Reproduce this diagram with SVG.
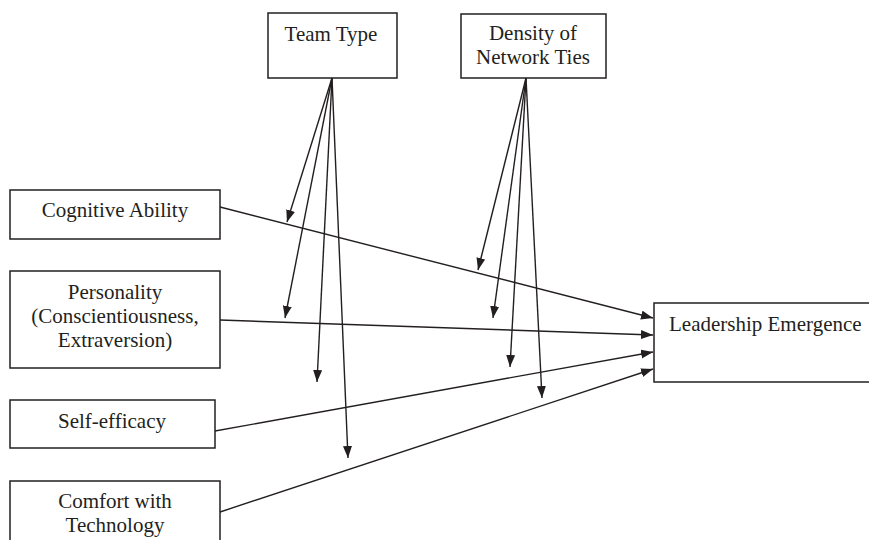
<svg xmlns="http://www.w3.org/2000/svg" width="869" height="540" viewBox="0 0 869 540">
<defs>
<style>
.box{fill:#fff;stroke:#231f20;stroke-width:1.5}
.t{font-family:"Liberation Serif","Times New Roman",serif;font-size:21px;fill:#231f20;text-anchor:middle}
.c{stroke:#231f20;stroke-width:1.4;fill:none;marker-end:url(#ah)}
</style>
<marker id="ah" markerUnits="userSpaceOnUse" markerWidth="13" markerHeight="10" refX="12" refY="4.5" orient="auto">
<path d="M0,0 L12,4.5 L0,9 z" fill="#231f20"/>
</marker>
</defs>
<rect width="869" height="540" fill="#fff"/>
<g id="team-type"><rect class="box" x="268" y="13" width="129" height="65"/><text class="t" x="331" y="41">Team Type</text></g>
<g id="density"><rect class="box" x="461" y="14" width="145" height="64"/><text class="t" x="533" y="40">Density of</text><text class="t" x="533" y="64">Network Ties</text></g>
<g id="cognitive"><rect class="box" x="10" y="190" width="210" height="49"/><text class="t" x="115" y="217">Cognitive Ability</text></g>
<g id="personality"><rect class="box" x="10" y="271" width="210" height="97"/><text class="t" x="115" y="299">Personality</text><text class="t" x="115" y="323">(Conscientiousness,</text><text class="t" x="115" y="347">Extraversion)</text></g>
<g id="self-efficacy"><rect class="box" x="10" y="400" width="205" height="48"/><text class="t" x="112" y="428">Self-efficacy</text></g>
<g id="comfort"><rect class="box" x="10" y="481" width="210" height="80"/><text class="t" x="115" y="508">Comfort with</text><text class="t" x="115" y="532">Technology</text></g>
<g id="leadership"><rect class="box" x="654" y="303" width="240" height="79"/><text class="t" x="669" y="331" style="text-anchor:start">Leadership Emergence</text></g>
<g id="connectors">
<line class="c" x1="220" y1="207" x2="653" y2="318"/>
<line class="c" x1="220" y1="320" x2="653" y2="335"/>
<line class="c" x1="215" y1="431" x2="653" y2="352"/>
<line class="c" x1="220" y1="512" x2="653" y2="369"/>
<line class="c" x1="332" y1="78" x2="287" y2="222"/>
<line class="c" x1="332" y1="78" x2="285" y2="318"/>
<line class="c" x1="332" y1="78" x2="317" y2="382"/>
<line class="c" x1="332" y1="78" x2="348" y2="458"/>
<line class="c" x1="526" y1="78" x2="478" y2="270"/>
<line class="c" x1="526" y1="78" x2="493" y2="318"/>
<line class="c" x1="526" y1="78" x2="510" y2="367"/>
<line class="c" x1="526" y1="78" x2="542" y2="398"/>
</g>
</svg>
